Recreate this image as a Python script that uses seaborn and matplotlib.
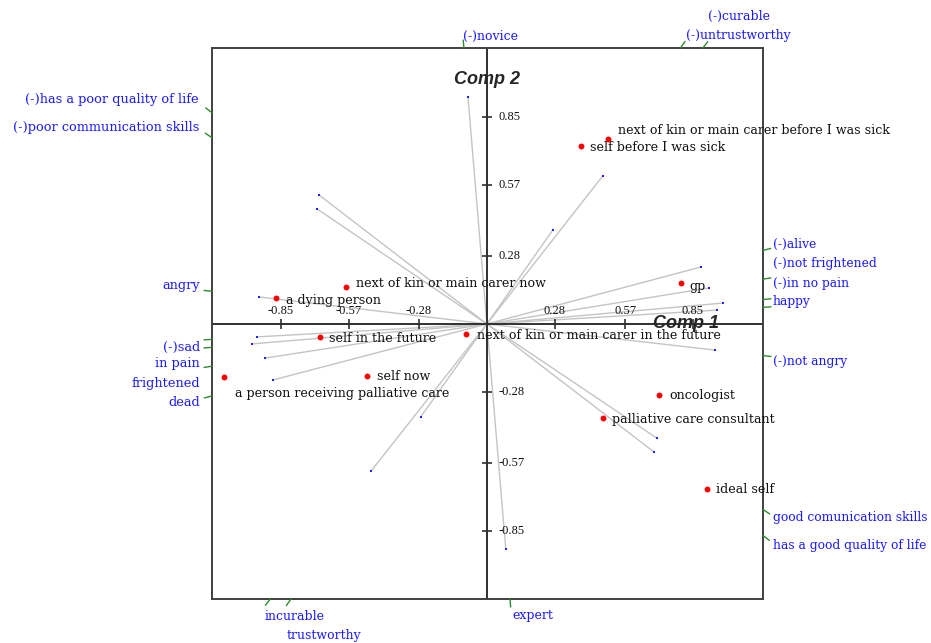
import numpy as np
import pandas as pd
import matplotlib
matplotlib.use("Agg")
import matplotlib.pyplot as plt
import seaborn as sns

# ---------------- data ----------------
element_names = [
    "next of kin or main carer before I was sick", "self before I was sick", "gp",
    "next of kin or main carer now", "a dying person", "self in the future",
    "next of kin or main carer in the future", "self now",
    "a person receiving palliative care", "oncologist",
    "palliative care consultant", "ideal self",
]
element_x = [0.50, 0.39, 0.80, -0.58, -0.87, -0.69, -0.087, -0.495, -1.085, 0.71, 0.48, 0.91]
element_y = [0.76, 0.73, 0.17, 0.15, 0.107, -0.053, -0.041, -0.213, -0.218, -0.29, -0.386, -0.678]

construct_names = [
    "angry", "(-)sad", "in pain", "frightened", "dead",
    "(-)has a poor quality of life", "(-)poor communication skills",
    "(-)novice", "(-)untrustworthy", "(-)curable",
    "(-)alive", "(-)not frightened", "(-)in no pain", "happy", "(-)not angry",
    "good comunication skills", "has a good quality of life",
    "expert", "trustworthy", "incurable",
]
construct_x = [-0.94, -0.949, -0.97, -0.916, -0.883, -0.693, -0.70, -0.078, 0.272, 0.478,
               0.883, 0.916, 0.974, 0.949, 0.94, 0.70, 0.69, 0.078, -0.272, -0.478]
construct_y = [0.111, -0.053, -0.082, -0.14, -0.23, 0.53, 0.472, 0.932, 0.386, 0.608,
               0.234, 0.148, 0.086, 0.057, -0.107, -0.468, -0.526, -0.924, -0.38, -0.604]

tick_values = [-0.85, -0.57, -0.28, 0.28, 0.57, 0.85]
tick_labels = ["-0.85", "-0.57", "-0.28", "0.28", "0.57", "0.85"]
x_title = "Comp 1"
y_title = "Comp 2"

# ---------------- layout (reference pixel positions for outer labels) ----------------
W, H = 931, 643
XLIM = (-1.134, 1.139)
YLIM = (-1.129, 1.133)
edge_label_layout = {
    "angry": (200, 286, "right", 9.3),
    "(-)sad": (200, 347, "right", 9.3),
    "in pain": (200, 364, "right", 9.3),
    "frightened": (200, 383, "right", 9.3),
    "dead": (200, 402, "right", 9.3),
    "(-)has a poor quality of life": (199, 100, "right", 9.3),
    "(-)poor communication skills": (199, 128, "right", 9.3),
    "(-)novice": (463, 36, "left", 9.0),
    "(-)untrustworthy": (686, 35, "left", 9.0),
    "(-)curable": (708, 16, "left", 9.0),
    "(-)alive": (773, 244, "left", 8.8),
    "(-)not frightened": (773, 263, "left", 8.8),
    "(-)in no pain": (773, 283, "left", 8.8),
    "happy": (773, 302, "left", 8.8),
    "(-)not angry": (773, 361, "left", 8.8),
    "good comunication skills": (773, 518, "left", 8.8),
    "has a good quality of life": (773, 546, "left", 8.8),
    "expert": (512, 616, "left", 9.0),
    "trustworthy": (287, 636, "left", 9.0),
    "incurable": (265, 616, "left", 9.0),
}
element_label_offset = {
    "next of kin or main carer before I was sick": (10, 8),
    "self before I was sick": (9, -1),
    "gp": (9, -4),
    "next of kin or main carer now": (10, 4),
    "a dying person": (10, -3),
    "self in the future": (9, -2),
    "next of kin or main carer in the future": (11, -2),
    "self now": (10, -1),
    "a person receiving palliative care": (11, -16),
    "oncologist": (10, -1),
    "palliative care consultant": (9, -1),
    "ideal self": (9, 0),
}

sns.set_style("white")
plt.rcParams["font.family"] = ["DejaVu Serif"]

fig = plt.figure(figsize=(W / 100, H / 100), dpi=100)
left, top, right, bottom = 212, 48, 763, 599
ax = fig.add_axes([left / W, 1 - bottom / H, (right - left) / W, (bottom - top) / H])
ax.set_xlim(*XLIM)
ax.set_ylim(*YLIM)
ax.set_xticks([])
ax.set_yticks([])
for s in ax.spines.values():
    s.set_visible(True)
    s.set_color("#404040")
    s.set_linewidth(1.4)

sx = (right - left) / (XLIM[1] - XLIM[0])
sy = (bottom - top) / (YLIM[1] - YLIM[0])

# vectors
for cx, cy in zip(construct_x, construct_y):
    ax.plot([0, cx], [0, cy], color="#c4c4c4", lw=1.0, zorder=1)

# axes lines
ax.axhline(0, color="#303030", lw=1.4, zorder=2)
ax.axvline(0, color="#303030", lw=1.4, zorder=2)

# ticks
tl = 5 / sy
tlx = 5 / sx
ax.vlines(tick_values, -tl, tl, color="#303030", lw=1.2, zorder=2)
ax.hlines(tick_values, -tlx, tlx, color="#303030", lw=1.2, zorder=2)
for v, lab in zip(tick_values, tick_labels):
    ax.annotate(lab, (v, 0), xytext=(0, 13), textcoords="offset pixels",
                ha="center", va="center", fontsize=9, family="Liberation Serif", color="#111111")
    ax.annotate(lab, (0, v), xytext=(12, 0), textcoords="offset pixels",
                ha="left", va="center", fontsize=9, family="Liberation Serif", color="#111111")

# endpoints
df_c = pd.DataFrame({"x": construct_x, "y": construct_y})
sns.scatterplot(data=df_c, x="x", y="y", ax=ax, color="#2020ff", s=2.5, marker="s",
                linewidth=0, zorder=3)
df_e = pd.DataFrame({"x": element_x, "y": element_y, "name": element_names})
sns.scatterplot(data=df_e, x="x", y="y", ax=ax, color="#ff0000", s=18,
                linewidth=0, zorder=4)
ax.set_xlabel("")
ax.set_ylabel("")

for name, ex, ey in zip(element_names, element_x, element_y):
    dx, dy = element_label_offset[name]
    ax.annotate(name, (ex, ey), xytext=(dx, dy), textcoords="offset pixels",
                ha="left", va="center", fontsize=9.1, color="#111111", zorder=5)

# construct ticks on the frame
for cx, cy in zip(construct_x, construct_y):
    tx = (XLIM[1] if cx > 0 else XLIM[0]) / cx if cx != 0 else np.inf
    ty = (YLIM[1] if cy > 0 else YLIM[0]) / cy if cy != 0 else np.inf
    t = min(tx, ty)
    px, py = cx * t, cy * t
    d = np.array([cx * sx, cy * sy])
    d = d / np.linalg.norm(d) * 8
    ax.plot([px, px + d[0] / sx], [py, py + d[1] / sy], color="#2e8b2e", lw=1.0,
            clip_on=False, zorder=3)

for name in construct_names:
    x0, y0, ha, fs = edge_label_layout[name]
    fig.text(x0 / W, 1 - y0 / H, name, ha=ha, va="center", fontsize=fs,
             color="#1a1aff")

ax.text(0, (324 - 80) / sy, y_title, ha="center", va="center", fontsize=13,
        family="Liberation Sans", fontweight="bold", fontstyle="italic", zorder=6)
ax.text((686 - 487) / sx, 0, x_title, ha="center", va="center", fontsize=13,
        family="Liberation Sans", fontweight="bold", fontstyle="italic", zorder=6)

fig.savefig("out.png", dpi=100)
